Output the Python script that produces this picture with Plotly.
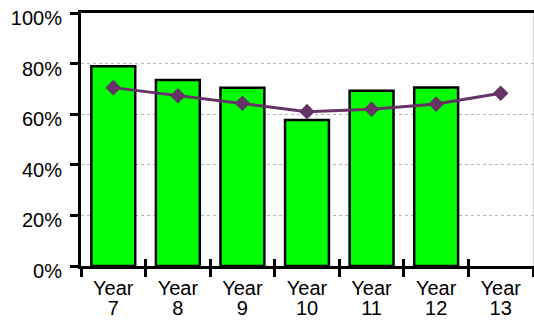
import plotly.graph_objects as go

categories = ["Year 7", "Year 8", "Year 9", "Year 10", "Year 11", "Year 12", "Year 13"]
tick_top = ["Year"] * 7
tick_bottom = ["7", "8", "9", "10", "11", "12", "13"]
bar_values = [79.0, 73.5, 70.5, 57.7, 69.3, 70.6, None]
line_values = [70.5, 67.3, 64.3, 61.0, 62.0, 64.0, 68.3]
y_ticks = [0, 20, 40, 60, 80, 100]
y_ticktext = ["0%", "20%", "40%", "60%", "80%", "100%"]

FONT = "Liberation Sans, Arial, sans-serif"

fig = go.Figure()
fig.add_trace(go.Bar(
    x=categories, y=bar_values,
    marker=dict(color="#00FF00", line=dict(color="black", width=2.5)),
    showlegend=False, hoverinfo="skip",
))
fig.add_trace(go.Scatter(
    x=categories, y=line_values, xaxis="x2",
    mode="lines+markers",
    line=dict(color="#663366", width=3),
    marker=dict(symbol="diamond", size=12, color="#663366"),
    showlegend=False,
))
# invisible helper traces so the overlay axes (crossing ticks, right border) are drawn
fig.add_trace(go.Scatter(x=categories, y=line_values, xaxis="x3", yaxis="y",
                         mode="markers", opacity=0, showlegend=False, hoverinfo="skip"))
fig.add_trace(go.Scatter(x=categories, y=line_values, xaxis="x", yaxis="y2",
                         mode="markers", opacity=0, showlegend=False, hoverinfo="skip"))

fig.update_layout(
    width=534, height=325,
    margin=dict(l=81, r=1, t=13, b=59, autoexpand=False),
    paper_bgcolor="white", plot_bgcolor="white",
    font=dict(family=FONT, size=20, color="black"),
    bargap=0.32,
    xaxis=dict(
        type="category", range=[-0.5, 6.5], automargin=False,
        tickmode="array", tickvals=categories, ticktext=tick_top,
        tickson="boundaries", ticks="outside", ticklen=8, tickwidth=2.5, tickcolor="black",
        showline=True, linecolor="black", linewidth=2.5,
        showgrid=False, zeroline=False,
        ticklabelstandoff=2,
        tickfont=dict(size=20, family=FONT, color="black"),
    ),
    xaxis2=dict(
        type="category", overlaying="x", matches="x", side="top", anchor="y", automargin=False,
        showline=True, linecolor="black", linewidth=3,
        ticks="", showticklabels=False, showgrid=False, zeroline=False,
    ),
    xaxis3=dict(
        type="category", overlaying="x", matches="x", side="bottom", anchor="y", automargin=False,
        tickmode="array", tickvals=categories, ticktext=tick_bottom,
        tickson="boundaries", ticks="inside", ticklen=7, tickwidth=2.5, tickcolor="black",
        showline=False, showgrid=False, zeroline=False,
        ticklabelstandoff=28,
        tickfont=dict(size=20, family=FONT, color="black"),
    ),
    yaxis=dict(
        range=[0, 100], tickmode="array", tickvals=y_ticks, ticktext=y_ticktext, automargin=False,
        ticks="outside", ticklen=8, tickwidth=2.5, tickcolor="black",
        showline=True, linecolor="black", linewidth=3,
        showgrid=True, gridcolor="#b4b4b4", gridwidth=1, griddash="3px,3px",
        zeroline=False,
        ticklabelshift=5, ticklabelstandoff=4, ticklabeloverflow="allow",
        tickfont=dict(size=20, family=FONT, color="black"),
    ),
    yaxis2=dict(
        range=[0, 100], overlaying="y", side="right", anchor="x", automargin=False,
        showline=True, linecolor="#d0d0d0", linewidth=1,
        ticks="", showticklabels=False, showgrid=False, zeroline=False,
    ),
)

fig.write_html("out.html", config={"displayModeBar": False},
               post_script="document.body.style.margin='0';")
